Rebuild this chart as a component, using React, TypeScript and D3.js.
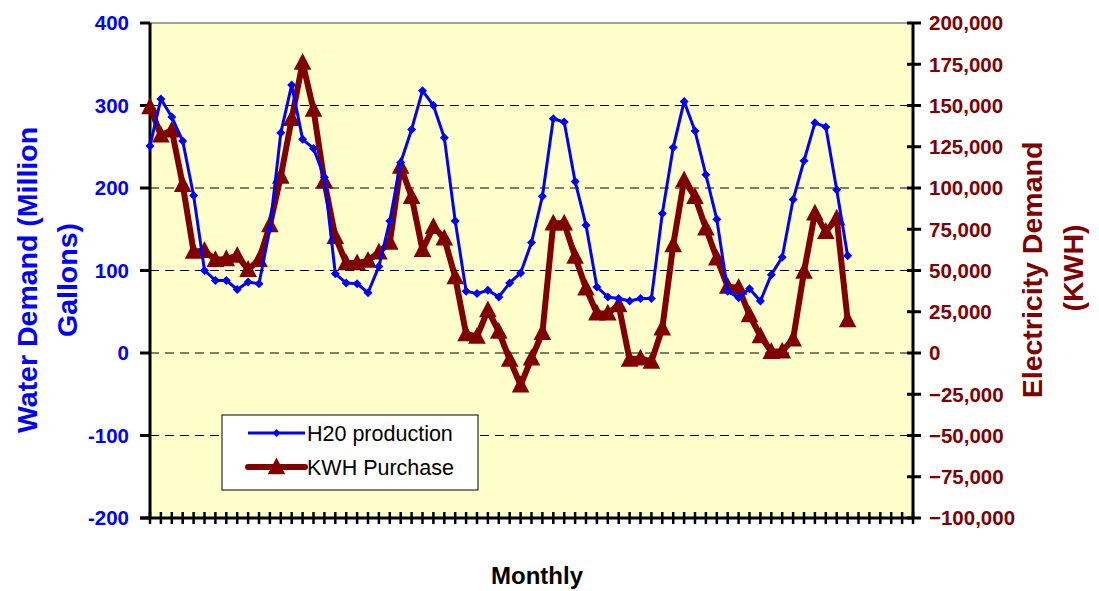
import React from "react";
import * as d3 from "d3";

const water: number[] = [
  251, 308, 286, 257, 191, 100, 88, 88, 77, 86, 84, 151, 267, 325, 259, 248, 213,
  96, 85, 84, 73, 105, 160, 231, 271, 318, 300, 261, 160, 75, 72, 76, 68, 85, 97,
  134, 190, 284, 280, 208, 155, 80, 68, 66, 63, 66, 66, 169, 249, 305, 269, 216,
  162, 75, 67, 78, 63, 95, 116, 186, 233, 279, 274, 198, 118,
];

const kwh: number[] = [
  149000, 132000, 135000, 102000, 61500, 62000, 56500, 57000, 59000, 50500, 56500,
  77500, 107000, 142000, 176000, 147500, 104000, 70500, 54500, 54500, 56000, 61000,
  67000, 113000, 94700, 62500, 76500, 69500, 46000, 11500, 10000, 26000, 13000,
  -4000, -19500, -3200, 12300, 78600, 78600, 58400, 39200, 24000, 24000, 29000,
  -4000, -3200, -5200, 15000, 65500, 104800, 94700, 75600, 57400, 40200, 39600,
  23000, 10300, 800, 1000, 8300, 49300, 84700, 73500, 81600, 20000,
];

const categoryCount = 71;
const leftTicks: number[] = [-200, -100, 0, 100, 200, 300, 400];
const rightTicks: number[] = [
  -100000, -75000, -50000, -25000, 0, 25000, 50000, 75000, 100000, 125000, 150000,
  175000, 200000,
];
const gridValues: number[] = [-100, 0, 100, 200, 300];
const seriesNames: string[] = ["H20 production", "KWH Purchase"];

const W = 1099;
const H = 591;
const L = 150;
const R = 913;
const T = 23;
const B = 518;

const BLUE = "#0000FF";
const RED = "#800000";
const FONT = "'Liberation Sans', Arial, Helvetica, sans-serif";

export default function App() {
  const x = d3.scaleLinear().domain([0, categoryCount - 1]).range([L, R]);
  const yL = d3.scaleLinear().domain([-200, 400]).range([B, T]);
  const yR = d3.scaleLinear().domain([-100000, 200000]).range([B, T]);

  const waterLine = d3
    .line<number>()
    .x((_, i) => x(i))
    .y((d) => yL(d))(water) as string;
  const kwhLine = d3
    .line<number>()
    .x((_, i) => x(i))
    .y((d) => yR(d))(kwh) as string;

  const fmt = d3.format(",");
  const diamond = (cx: number, cy: number, r: number) =>
    `M${cx},${cy - r}L${cx + r},${cy}L${cx},${cy + r}L${cx - r},${cy}Z`;
  const tri = (cx: number, cy: number, s: number) =>
    `M${cx},${cy - s * 0.6}L${cx + s * 0.55},${cy + s * 0.45}L${cx - s * 0.55},${cy + s * 0.45}Z`;

  return (
    <svg
      width={W}
      height={H}
      style={{ position: "absolute", left: 0, top: 0, background: "#fff" }}
      fontFamily={FONT}
    >
      <rect x={L} y={T} width={R - L} height={B - T} fill="#FFFFCC" />
      <line x1={L} x2={R} y1={T} y2={T} stroke="#808080" strokeWidth={1.5} />
      {gridValues.map((v) => (
        <line
          key={v}
          x1={L}
          x2={R}
          y1={yL(v)}
          y2={yL(v)}
          stroke="#000"
          strokeWidth={1}
          strokeDasharray="9,6"
        />
      ))}

      {/* x axis ticks */}
      {d3.range(categoryCount).map((i) => (
        <line key={i} x1={x(i)} x2={x(i)} y1={B - 6} y2={B + 6} stroke="#000" strokeWidth={2.5} />
      ))}
      <line x1={L - 10} x2={R} y1={B} y2={B} stroke="#000" strokeWidth={3} />

      {/* left axis */}
      <line x1={L} x2={L} y1={T} y2={B} stroke="#000" strokeWidth={3} />
      {leftTicks.map((v) => (
        <g key={v}>
          <line x1={L - 10} x2={L} y1={yL(v)} y2={yL(v)} stroke="#000" strokeWidth={3} />
          <text
            x={L - 21}
            y={yL(v)}
            dy="0.36em"
            textAnchor="end"
            fontSize={20.5}
            fontWeight="bold"
            fill={BLUE}
          >
            {v}
          </text>
        </g>
      ))}

      {/* right axis */}
      <line x1={R} x2={R} y1={T} y2={B} stroke="#000" strokeWidth={3} />
      {rightTicks.map((v) => (
        <g key={v}>
          <line x1={R - 6} x2={R + 8} y1={yR(v)} y2={yR(v)} stroke="#000" strokeWidth={3} />
          <text
            x={R + 16}
            y={yR(v)}
            dy="0.36em"
            textAnchor="start"
            fontSize={20.5}
            fontWeight="bold"
            fill={RED}
          >
            {fmt(v)}
          </text>
        </g>
      ))}

      {/* series */}
      <path d={kwhLine} fill="none" stroke={RED} strokeWidth={6} strokeLinejoin="round" />
      {kwh.map((v, i) => (
        <path key={i} d={tri(x(i), yR(v), 16)} fill={RED} />
      ))}
      <path d={waterLine} fill="none" stroke={BLUE} strokeWidth={3} strokeLinejoin="round" />
      {water.map((v, i) => (
        <path key={i} d={diamond(x(i), yL(v), 4.5)} fill={BLUE} />
      ))}

      {/* axis titles */}
      <text
        transform={`translate(37,280) rotate(-90)`}
        textAnchor="middle"
        fontSize={28.5}
        fontWeight="bold"
        fill={BLUE}
      >
        Water Demand (Million
      </text>
      <text
        transform={`translate(77,280) rotate(-90)`}
        textAnchor="middle"
        fontSize={28.5}
        fontWeight="bold"
        fill={BLUE}
      >
        Gallons)
      </text>
      <text
        transform={`translate(1042,270) rotate(-90)`}
        textAnchor="middle"
        fontSize={28.5}
        fontWeight="bold"
        fill={RED}
      >
        Electricity Demand
      </text>
      <text
        transform={`translate(1083,268) rotate(-90)`}
        textAnchor="middle"
        fontSize={28.5}
        fontWeight="bold"
        fill={RED}
      >
        (KWH)
      </text>
      <text x={537} y={584} textAnchor="middle" fontSize={24} fontWeight="bold" fill="#000">
        Monthly
      </text>

      {/* legend */}
      <rect x={222} y={415} width={256} height={75} fill="#fff" stroke="#000" strokeWidth={1} />
      <line x1={248} x2={305} y1={433} y2={433} stroke={BLUE} strokeWidth={3} />
      <path d={diamond(276.5, 433, 4)} fill={BLUE} />
      <text x={307} y={433} dy="0.36em" fontSize={21.5} fill="#000">
        {seriesNames[0]}
      </text>
      <line x1={248} x2={305} y1={467} y2={467} stroke={RED} strokeWidth={6} strokeLinecap="round" />
      <path d={tri(276.5, 467, 16)} fill={RED} />
      <text x={307} y={467} dy="0.36em" fontSize={21.5} fill="#000">
        {seriesNames[1]}
      </text>
    </svg>
  );
}
